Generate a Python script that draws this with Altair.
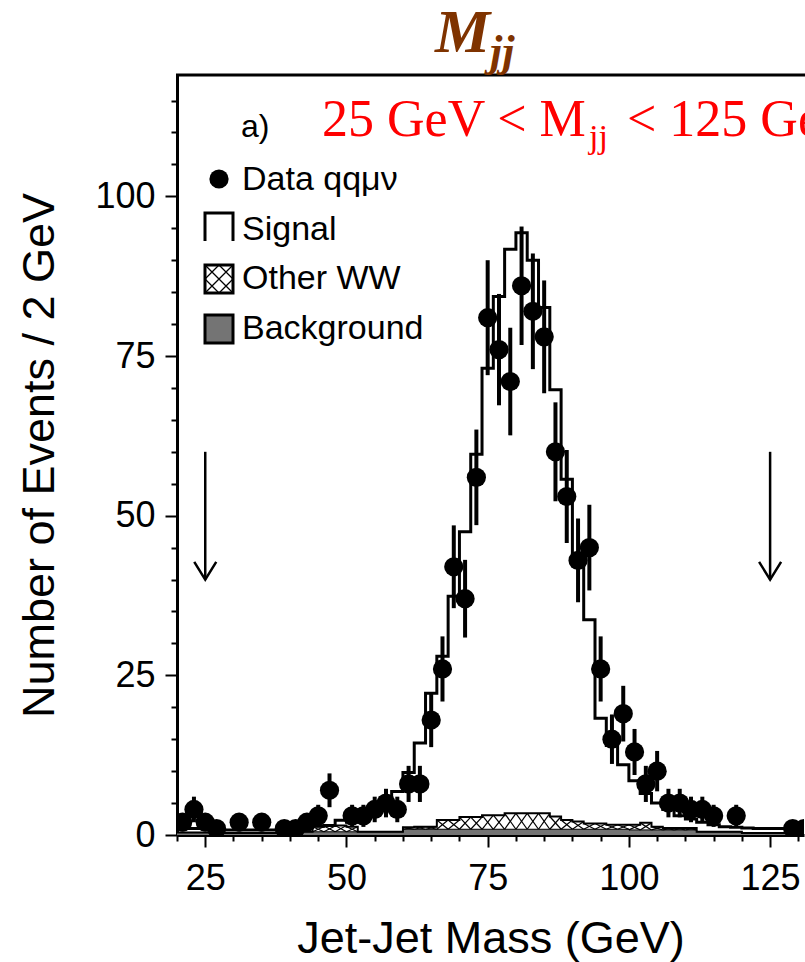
import altair as alt
import pandas as pd

# ---------------- data ----------------
data_mass = [21, 23, 25, 27, 31, 35, 39, 41, 43, 45, 47, 51, 53, 55, 57, 59,
             61, 63, 65, 67, 69, 71, 73, 75, 77, 79, 81, 83, 85, 87, 89, 91,
             93, 95, 97, 99, 101, 103, 105, 107, 109, 111, 113, 115, 119, 129, 131]
data_counts = [2, 4, 2, 1, 2, 2, 1, 1, 2, 3, 7, 3, 3, 4, 5, 4,
               8, 8, 18, 26, 42, 37, 56, 81, 76, 71, 86, 82, 78, 60, 53, 43,
               45, 26, 15, 19, 13, 8, 10, 5, 5, 4, 4, 3, 3, 1, 1]

bin_lo = list(range(20, 132, 2))  # 2 GeV bins, 20..132
signal_total = [1.0, 1.0, 1.0, 0.8, 0.8, 0.8, 0.8, 0.8, 0.8, 1.0,
                1.0, 1.2, 1.4, 1.5, 2.3, 2.0, 3.0, 4.2, 5.8, 6.8,
                9.8, 14.4, 22.2, 28.0, 37.4, 47.5, 59.6, 73.1, 84.3, 91.7,
                94.3, 90.0, 82.6, 69.7, 55.7, 42.6, 33.7, 18.3, 14.0, 11.0,
                8.5, 6.5, 5.0, 4.0, 3.0, 2.5, 2.0, 1.6, 1.3, 1.2,
                1.1, 1.0, 1.0, 1.0, 1.0, 1.0]
other_ww = [0, 0, 0, 0, 0, 0, 0, 0, 0, 0, 0, 0,
            0.8, 0.9, 1.0, 0.8,
            0, 0, 0, 0,
            0.3,
            0.4, 0.4, 1.45, 1.45, 1.9, 1.9, 2.2, 2.2, 2.5, 2.5, 2.5, 2.5, 2.0, 1.45,
            1.2, 0.9, 0.9, 0.7, 0.7,
            0.8, 1.1, 0.5, 0.3, 0.3, 0.3,
            0, 0, 0, 0, 0, 0, 0, 0, 0, 0]
background = ([0.4] * 3 + [0.3] * 7 + [0.5] * 10 + [0.9] * 20 +
              [0.8] * 6 + [0.5] * 4 + [0.3] * 6)
cut_values = [25, 125]

title_main = ["M", "jj"]
cut_label = ["25 GeV < M", "jj", "< 125 GeV"]
panel_label = "a)"
legend_labels = ["Data qq\u03bc\u03bd", "Signal", "Other WW", "Background"]
x_title = "Jet-Jet Mass (GeV)"
y_title = "Number of Events / 2 GeV"
x_ticks = list(range(20, 131, 5))
y_ticks = list(range(0, 116, 5))

# ---------------- frames ----------------
W, H = 627, 760
pts = pd.DataFrame({"m": data_mass, "n": data_counts})
bins = pd.DataFrame({"lo": bin_lo, "total": signal_total,
                     "other": other_ww, "bkg": background})
bins["hi"] = bins["lo"] + 2
bins["top"] = bins["bkg"] + bins["other"]
last = bins.iloc[[-1]].copy()
last["lo"] = last["hi"]
steps = pd.concat([bins, last], ignore_index=True)
arrows = pd.DataFrame({"cut": cut_values, "a_top": [60, 60], "a_tip": [40, 40]})

FONT = "Liberation Sans"
BKG_FILL = "#747474"
xs = alt.Scale(domain=[20, 131], nice=False, zero=False)
ys = alt.Scale(domain=[0, 119], nice=False)

major = "datum.value % 25 === 0"
common_axis = dict(
    grid=False, labelFont=FONT, labelFontSize=36, labelColor="black",
    titleFont=FONT, titleFontSize=45, titleFontWeight="normal",
    titleColor="black", domainColor="black", domainWidth=3,
    tickColor="black", tickWidth=2, labelOverlap=False,
    labelExpr=f"{major} ? datum.label : ''",
    tickSize={"condition": {"test": major, "value": 12}, "value": 6},
)
x_axis = alt.Axis(values=x_ticks, title=x_title, labelPadding=14,
                  titlePadding=20, **common_axis)
y_axis = alt.Axis(values=y_ticks, title=y_title, labelPadding=10,
                  titlePadding=32, **common_axis)


def X(f):
    return alt.X(f, type="quantitative", scale=xs, axis=x_axis)


def Y(f):
    return alt.Y(f, type="quantitative", scale=ys, axis=y_axis)


layers = []
# background (dense pattern -> grey fill)
layers.append(alt.Chart(steps).mark_area(interpolate="step-after", color=BKG_FILL,
                                         clip=True)
              .encode(x=X("lo"), y=Y("bkg")))
layers.append(alt.Chart(steps).mark_line(interpolate="step-after", color="black",
                                         strokeWidth=1, clip=True)
              .encode(x=X("lo"), y=Y("bkg")))
# other WW cross hatch
hatch = alt.Chart(bins).transform_filter("datum.other > 0")
layers.append(hatch.mark_rule(color="black", strokeWidth=1.2, clip=True)
              .encode(x=X("lo"), x2="hi", y=Y("bkg"), y2="top"))
layers.append(hatch.mark_rule(color="black", strokeWidth=1.2, clip=True)
              .encode(x=X("lo"), x2="hi", y=Y("top"), y2="bkg"))
layers.append(alt.Chart(steps).mark_line(interpolate="step-after", color="black",
                                         strokeWidth=2, clip=True)
              .encode(x=X("lo"), y=Y("top")))
# signal (total expectation)
layers.append(alt.Chart(steps).mark_line(interpolate="step-after", color="black",
                                         strokeWidth=3, clip=True)
              .encode(x=X("lo"), y=Y("total")))
# data with Poisson errors
err = alt.Chart(pts).transform_calculate(
    lo="datum.n - sqrt(datum.n)", hi="datum.n + sqrt(datum.n)")
layers.append(err.mark_rule(color="black", strokeWidth=4, clip=True)
              .encode(x=X("m"), y=Y("lo"), y2="hi"))
layers.append(alt.Chart(pts).mark_point(shape="circle", filled=True, size=370,
                                        color="black", opacity=1, clip=True)
              .encode(x=X("m"), y=Y("n")))
# cut arrows
layers.append(alt.Chart(arrows).mark_rule(color="black", strokeWidth=2.5)
              .encode(x=X("cut"), y=Y("a_top"), y2="a_tip"))
layers.append(alt.Chart(arrows).mark_point(shape="M-1,-1.6L0,0L1,-1.6", filled=False,
                                           size=484, color="black", strokeWidth=2.5,
                                           opacity=1)
              .encode(x=X("cut"), y=Y("a_tip")))


def one(txt):
    return alt.Chart(pd.DataFrame({"t": [txt]}))


# top frame line
layers.append(one("").mark_rule(color="black", strokeWidth=3)
              .encode(x=alt.value(-1), x2=alt.value(700), y=alt.value(0)))

# title M_jj
layers.append(one(title_main[0]).mark_text(font="Liberation Serif", fontSize=62,
                                           fontWeight="bold", fontStyle="italic",
                                           color="#7f3300", align="left",
                                           baseline="alphabetic")
              .encode(x=alt.value(258), y=alt.value(-23), text="t:N"))
layers.append(one(title_main[1]).mark_text(font="Liberation Serif", fontSize=44,
                                           fontWeight="bold", fontStyle="italic",
                                           color="#7f3300", align="left",
                                           baseline="alphabetic")
              .encode(x=alt.value(313), y=alt.value(-9), text="t:N"))

# red cut text
for txt, xp, yp, fs in [(cut_label[0], 145, 61, 52), (cut_label[1], 412, 73, 34),
                        (cut_label[2], 450, 61, 52)]:
    layers.append(one(txt).mark_text(font="Liberation Serif", fontSize=fs,
                                     color="#ff0000", align="left",
                                     baseline="alphabetic")
                  .encode(x=alt.value(xp), y=alt.value(yp), text="t:N"))

# panel label
layers.append(one(panel_label).mark_text(font=FONT, fontSize=32, color="black",
                                         align="left", baseline="middle")
              .encode(x=alt.value(64), y=alt.value(52), text="t:N"))

# legend
for i, lab in enumerate(legend_labels):
    layers.append(one(lab).mark_text(font=FONT, fontSize=34, color="black",
                                     align="left", baseline="middle")
                  .encode(x=alt.value(65), y=alt.value(105 + 49.5 * i), text="t:N"))

layers.append(one("").mark_point(shape="circle", filled=True, size=370,
                                 color="black", opacity=1)
              .encode(x=alt.value(42), y=alt.value(104)))
layers.append(one("").mark_point(shape="M-1,1L-1,-1L1,-1L1,1", filled=False,
                                 size=784, color="black", strokeWidth=3, opacity=1)
              .encode(x=alt.value(42), y=alt.value(152)))
layers.append(one("").mark_point(
    shape="M-1,-1L1,1M-1,1L1,-1M-1,0L0,-1M0,1L1,0M-1,0L0,1M0,-1L1,0",
    filled=False, size=784, color="black", strokeWidth=1.3, opacity=1)
    .encode(x=alt.value(42), y=alt.value(204)))
layers.append(one("").mark_point(shape="square", filled=False, size=784,
                                 color="black", strokeWidth=3, opacity=1)
              .encode(x=alt.value(42), y=alt.value(204)))
layers.append(one("").mark_point(shape="square", filled=True, size=784,
                                 fill=BKG_FILL, stroke="black", strokeWidth=3,
                                 opacity=1)
              .encode(x=alt.value(42), y=alt.value(254)))

chart = (alt.layer(*layers)
         .properties(width=W, height=H,
                     autosize=alt.AutoSizeParams(type="none"),
                     padding={"left": 177, "top": 75, "right": 1, "bottom": 127},
                     background="white")
         .configure_view(stroke=None))

chart.save("out.html", embed_options={"renderer": "svg", "actions": False})
